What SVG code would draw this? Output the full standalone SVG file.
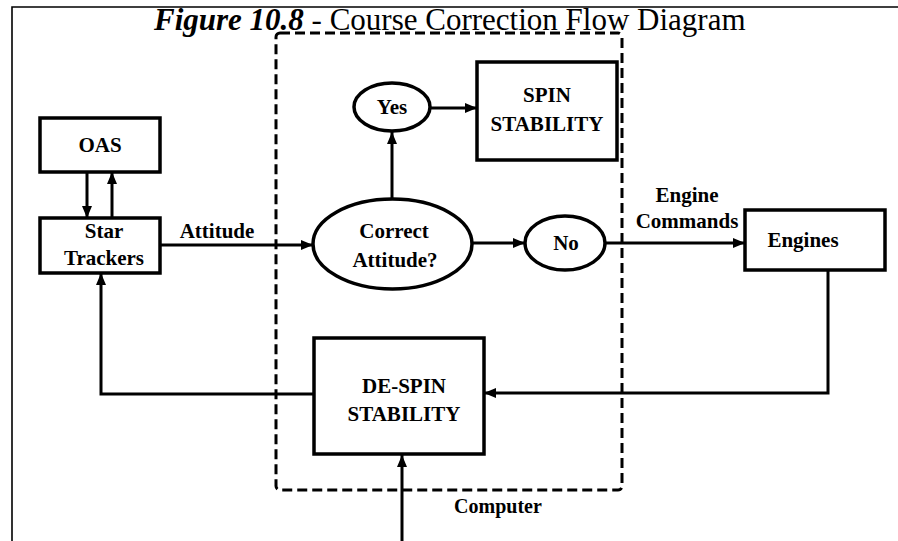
<svg xmlns="http://www.w3.org/2000/svg" width="898" height="541" viewBox="0 0 898 541">
<defs>
<marker id="ah" markerUnits="userSpaceOnUse" markerWidth="13" markerHeight="11" refX="12" refY="5" orient="auto">
<path d="M0,0 L12,5 L0,10 z" fill="#000"/>
</marker>
<style>
.box{fill:#fff;stroke:#000;stroke-width:3.5}
.lbl{font-family:"Liberation Serif","Times New Roman",serif;font-size:21px;font-weight:bold;fill:#000;text-anchor:middle}
.con{fill:none;stroke:#000;stroke-width:3}
.frame{fill:none;stroke:#000;stroke-width:1.6}
.title{font-family:"Liberation Serif","Times New Roman",serif;font-size:31px;fill:#000}
</style>
</defs>
<rect width="898" height="541" fill="#fff"/>
<path class="frame" d="M12,541 V7 H898"/>
<text class="title" x="154" y="30"><tspan font-weight="bold" font-style="italic">Figure 10.8</tspan> - Course Correction Flow Diagram</text>
<g id="computer">
<rect x="276" y="33" width="346" height="457" rx="4" fill="none" stroke="#000" stroke-width="3" stroke-dasharray="10,5"/>
<text class="lbl" x="498" y="513" style="font-size:20px">Computer</text>
</g>
<g id="connectors">
<line class="con" x1="87" y1="172" x2="87" y2="218" marker-end="url(#ah)"/>
<line class="con" x1="112" y1="218" x2="112" y2="172" marker-end="url(#ah)"/>
<line class="con" x1="160" y1="245" x2="313" y2="245" marker-end="url(#ah)"/>
<line class="con" x1="392" y1="200" x2="392" y2="132" marker-end="url(#ah)"/>
<line class="con" x1="430" y1="108" x2="477" y2="108" marker-end="url(#ah)"/>
<line class="con" x1="472" y1="243" x2="525" y2="243" marker-end="url(#ah)"/>
<line class="con" x1="605" y1="243" x2="745" y2="243" marker-end="url(#ah)"/>
<path class="con" d="M828,270 V393 H484" marker-end="url(#ah)"/>
<path class="con" d="M314,394 H101 V273" marker-end="url(#ah)"/>
<line class="con" x1="402" y1="541" x2="402" y2="455" marker-end="url(#ah)"/>
<text class="lbl" x="217" y="238">Attitude</text>
<text class="lbl" x="687" y="202">Engine</text>
<text class="lbl" x="687" y="228">Commands</text>
</g>
<g id="oas">
<rect class="box" x="40" y="118" width="120" height="54"/>
<text class="lbl" x="100" y="152">OAS</text>
</g>
<g id="star-trackers">
<rect class="box" x="40" y="218" width="120" height="55"/>
<text class="lbl" x="104" y="238">Star</text>
<text class="lbl" x="104" y="265">Trackers</text>
</g>
<g id="correct-attitude">
<ellipse class="box" cx="392.5" cy="244" rx="79.5" ry="45"/>
<text class="lbl" x="394" y="238">Correct</text>
<text class="lbl" x="395" y="267">Attitude?</text>
</g>
<g id="yes">
<ellipse class="box" cx="392" cy="107" rx="38" ry="24"/>
<text class="lbl" x="392" y="114">Yes</text>
</g>
<g id="spin-stability">
<rect class="box" x="477" y="62" width="140" height="98"/>
<text class="lbl" x="547" y="102">SPIN</text>
<text class="lbl" x="547" y="131">STABILITY</text>
</g>
<g id="no">
<ellipse class="box" cx="565" cy="243" rx="40" ry="27"/>
<text class="lbl" x="566" y="250">No</text>
</g>
<g id="engines">
<rect class="box" x="745" y="210" width="140" height="60"/>
<text class="lbl" x="803" y="247">Engines</text>
</g>
<g id="de-spin-stability">
<rect class="box" x="314" y="338" width="170" height="116"/>
<text class="lbl" x="404" y="393">DE-SPIN</text>
<text class="lbl" x="404" y="421">STABILITY</text>
</g>
</svg>
